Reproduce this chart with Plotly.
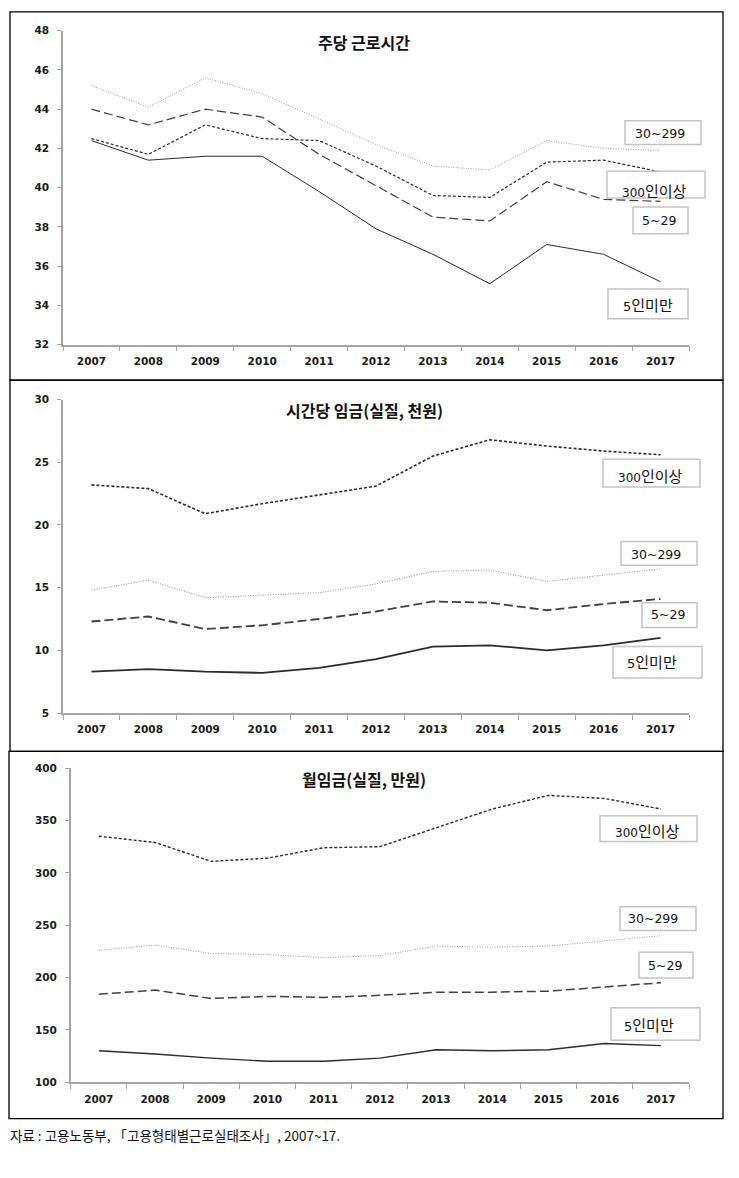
import plotly.graph_objects as go

W, H = 739, 1178

years = ["2007", "2008", "2009", "2010", "2011", "2012", "2013", "2014", "2015", "2016", "2017"]
series_names = ["300인이상", "30~299", "5~29", "5인미만"]

hours_300 = [42.5, 41.7, 43.2, 42.5, 42.4, 41.1, 39.6, 39.5, 41.3, 41.4, 40.8]
hours_30_299 = [45.2, 44.1, 45.6, 44.8, 43.5, 42.2, 41.1, 40.9, 42.4, 42.0, 41.9]
hours_5_29 = [44.0, 43.2, 44.0, 43.6, 41.7, 40.1, 38.5, 38.3, 40.3, 39.4, 39.3]
hours_lt5 = [42.4, 41.4, 41.6, 41.6, 39.8, 37.9, 36.6, 35.1, 37.1, 36.6, 35.2]

hourly_300 = [23.2, 22.9, 20.9, 21.7, 22.4, 23.1, 25.5, 26.8, 26.3, 25.9, 25.6]
hourly_30_299 = [14.8, 15.6, 14.2, 14.4, 14.6, 15.3, 16.3, 16.4, 15.5, 16.0, 16.5]
hourly_5_29 = [12.3, 12.7, 11.7, 12.0, 12.5, 13.1, 13.9, 13.8, 13.2, 13.7, 14.1]
hourly_lt5 = [8.3, 8.5, 8.3, 8.2, 8.6, 9.3, 10.3, 10.4, 10.0, 10.4, 11.0]

monthly_300 = [335, 329, 311, 314, 324, 325, 343, 361, 374, 371, 361]
monthly_30_299 = [226, 231, 223, 222, 219, 221, 230, 229, 230, 235, 240]
monthly_5_29 = [184, 188, 180, 182, 181, 183, 186, 186, 187, 191, 195]
monthly_lt5 = [130, 127, 123, 120, 120, 123, 131, 130, 131, 137, 135]

titles = ["주당 근로시간", "시간당 임금(실질, 천원)", "월임금(실질, 만원)"]
yticks = [[32, 34, 36, 38, 40, 42, 44, 46, 48],
          [5, 10, 15, 20, 25, 30],
          [100, 150, 200, 250, 300, 350, 400]]
source_text = "자료 : 고용노동부, 「고용형태별근로실태조사」, 2007~17."

def px(x):
    return x / W

def py(y):
    return 1 - y / H

panels = [
    dict(data=[hours_300, hours_30_299, hours_5_29, hours_lt5],
         xd=(63, 689), yd=(342, 25), yr=(32, 48), widths=[1.2, 1.0, 1.2, 1.0],
         border=(10, 6, 723, 378), title_xy=(364, 36),
         boxes=[(607, 167, 705, 194, 654, 186), (625, 116, 701, 140, 660, 129),
                (633, 203, 688, 230, 659, 217), (608, 286, 688, 316, 648, 302)]),
    dict(data=[hourly_300, hourly_30_299, hourly_5_29, hourly_lt5],
         xd=(63, 689), yd=(714.3, 397.7), yr=(5, 30), widths=[1.6, 1.1, 1.8, 1.8],
         border=(10, 378, 723, 753), title_xy=(364, 408),
         boxes=[(603, 458, 700, 486, 650, 474), (621, 541, 697, 565, 656, 554),
                (642, 603, 697, 628, 668, 615), (613, 647, 702, 679, 652, 662)]),
    dict(data=[monthly_300, monthly_30_299, monthly_5_29, monthly_lt5],
         xd=(70.7, 689), yd=(1087.3, 770), yr=(100, 400), widths=[1.4, 1.0, 1.5, 1.4],
         border=(9, 753, 723, 1124), title_xy=(364, 781),
         boxes=[(600, 818, 697, 844, 647, 833), (620, 910, 696, 934, 653, 922),
                (639, 956, 693, 982, 665, 969), (611, 1012, 700, 1045, 649, 1029)]),
]

colors = ["#2b2b2b", "#9a9a9a", "#404040", "#2b2b2b"]
dashes = ["3px,2px", "1px,1.5px", "9px,4px", "solid"]

fig = go.Figure()
shapes = []
annotations = []

for i, p in enumerate(panels):
    sfx = "" if i == 0 else str(i + 1)
    for k, vals in enumerate(p["data"]):
        fig.add_trace(go.Scatter(
            x=years, y=vals, mode="lines", name=series_names[k],
            xaxis="x" + sfx, yaxis="y" + sfx, showlegend=False,
            line=dict(color=colors[k], width=p["widths"][k], dash=dashes[k]),
            hoverinfo="x+y+name"))
    axis_common = dict(showgrid=False, zeroline=False, showline=True,
                       linecolor="#a6a6a6", linewidth=1.5, ticks="outside",
                       tickcolor="#a6a6a6", tickwidth=1,
                       tickfont=dict(family="DejaVu Sans", size=10.5, color="#1a1a1a", weight="bold"))
    fig.update_layout(**{
        "xaxis" + sfx: dict(axis_common, type="category", range=[-0.5, 10.5],
                            domain=[px(p["xd"][0]), px(p["xd"][1])],
                            anchor="y" + sfx, tickson="boundaries", ticklen=5,
                            ticklabelstandoff=6),
        "yaxis" + sfx: dict(axis_common, range=list(p["yr"]), tickvals=yticks[i],
                            domain=[py(p["yd"][0]), py(p["yd"][1])],
                            anchor="x" + sfx, ticklen=4, ticklabelstandoff=6),
    })
    x0, y0, x1, y1 = p["border"]
    shapes.append(dict(type="rect", xref="paper", yref="paper",
                       x0=px(x0), x1=px(x1), y0=py(y1), y1=py(y0),
                       line=dict(color="black", width=1.3), layer="above"))
    annotations.append(dict(text="<b>" + titles[i] + "</b>", xref="paper", yref="paper",
                            x=px(p["title_xy"][0]), y=py(p["title_xy"][1]),
                            xanchor="center", yanchor="middle", showarrow=False,
                            font=dict(family="Noto Sans CJK KR", size=16, color="#111")))
    for k, (bx0, by0, bx1, by1, tx, ty) in enumerate(p["boxes"]):
        shapes.append(dict(type="rect", xref="paper", yref="paper",
                           x0=px(bx0), x1=px(bx1), y0=py(by1), y1=py(by0),
                           fillcolor="white", line=dict(color="#c4c4c4", width=1.5),
                           layer="above"))
        name = series_names[k]
        if name.startswith("300"):
            txt = "<span style='font-family:DejaVu Sans;font-size:12px'>300</span>인이상"
        elif name == "5인미만":
            txt = "<span style='font-family:DejaVu Sans;font-size:13px'>5</span>인미만"
        else:
            txt = "<span style='font-family:DejaVu Sans;font-size:12.5px'>" + name + "</span>"
        annotations.append(dict(text=txt, xref="paper", yref="paper",
                                x=px(tx), y=py(ty), xanchor="center", yanchor="middle",
                                showarrow=False,
                                font=dict(family="Noto Sans CJK KR", size=15, color="#111")))

annotations.append(dict(text=source_text, xref="paper", yref="paper",
                        x=px(7.5), y=py(1141), xanchor="left", yanchor="middle",
                        showarrow=False,
                        font=dict(family="Noto Sans CJK KR", size=13.5, color="#111")))

fig.update_layout(width=W, height=H, margin=dict(l=0, r=0, t=0, b=0),
                  paper_bgcolor="white", plot_bgcolor="white",
                  shapes=shapes, annotations=annotations)

# remove the default 8px page margin so the figure fills the window exactly
fig.write_html("out.html",
               config={"displayModeBar": False},
               post_script="document.body.style.margin='0';document.body.style.overflow='hidden';")
